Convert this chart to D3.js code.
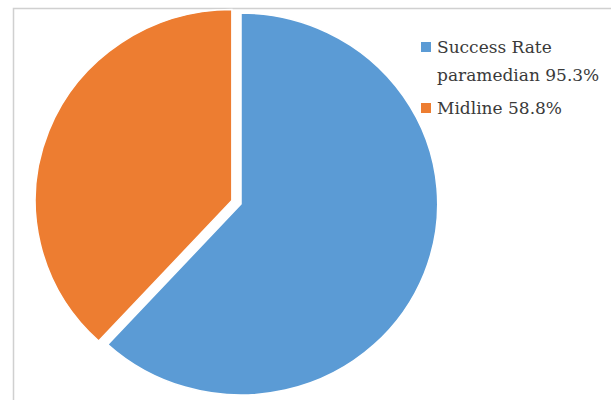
<!DOCTYPE html>
<meta charset="utf-8">
<style>
  body { margin: 0; background: #fff; }
  .legend text { font: 17px "DejaVu Serif", serif; fill: #3a3a3a; }
</style>
<body>
<script src="https://cdn.jsdelivr.net/npm/d3@7"></script>
<script>
  // slice data
  var labels = ["Success Rate paramedian 95.3%", "Midline 58.8%"];
  var legendLines = [["Success Rate", "paramedian 95.3%"], ["Midline 58.8%"]];
  var values = [95.3, 58.8];
  var colors = ["#5b9bd5", "#ed7d31"];
  var explode = [0, 9.5]; // pixels the slice is pulled out

  var width = 611, height = 400;

  var svg = d3.select("body").append("svg")
    .attr("width", width)
    .attr("height", height);

  // chart frame (cut off at right and bottom)
  svg.append("rect")
    .attr("x", 13.5).attr("y", 8.5)
    .attr("width", 700).attr("height", 500)
    .attr("fill", "none")
    .attr("stroke", "#d0d0d0")
    .attr("stroke-width", 1.5);

  var pie = d3.pie().sort(null).value(function (d) { return d; });
  var arcs = pie(values);

  var radius = 191;
  var arc = d3.arc().innerRadius(0).outerRadius(radius);

  // picture is a bit wider than tall, so stretch x slightly
  var g = svg.append("g")
    .attr("transform", "translate(241,204) scale(1.03,1)");

  g.selectAll("path")
    .data(arcs)
    .enter().append("path")
    .attr("d", arc)
    .attr("fill", function (d, i) { return colors[i]; })
    .attr("stroke", "#fff")
    .attr("stroke-width", 1.5)
    .attr("transform", function (d, i) {
      var a = (d.startAngle + d.endAngle) / 2;
      return "translate(" + (Math.sin(a) * explode[i]) + "," + (-Math.cos(a) * explode[i]) + ")";
    });

  // legend
  var legend = svg.append("g").attr("class", "legend");
  var rowY = [53, 114];
  legendLines.forEach(function (lines, i) {
    legend.append("rect")
      .attr("x", 421).attr("y", rowY[i] - 11)
      .attr("width", 10).attr("height", 10)
      .attr("fill", colors[i]);
    lines.forEach(function (t, j) {
      legend.append("text")
        .attr("x", 437)
        .attr("y", rowY[i] + j * 28)
        .text(t);
    });
  });
</script>
</body>
